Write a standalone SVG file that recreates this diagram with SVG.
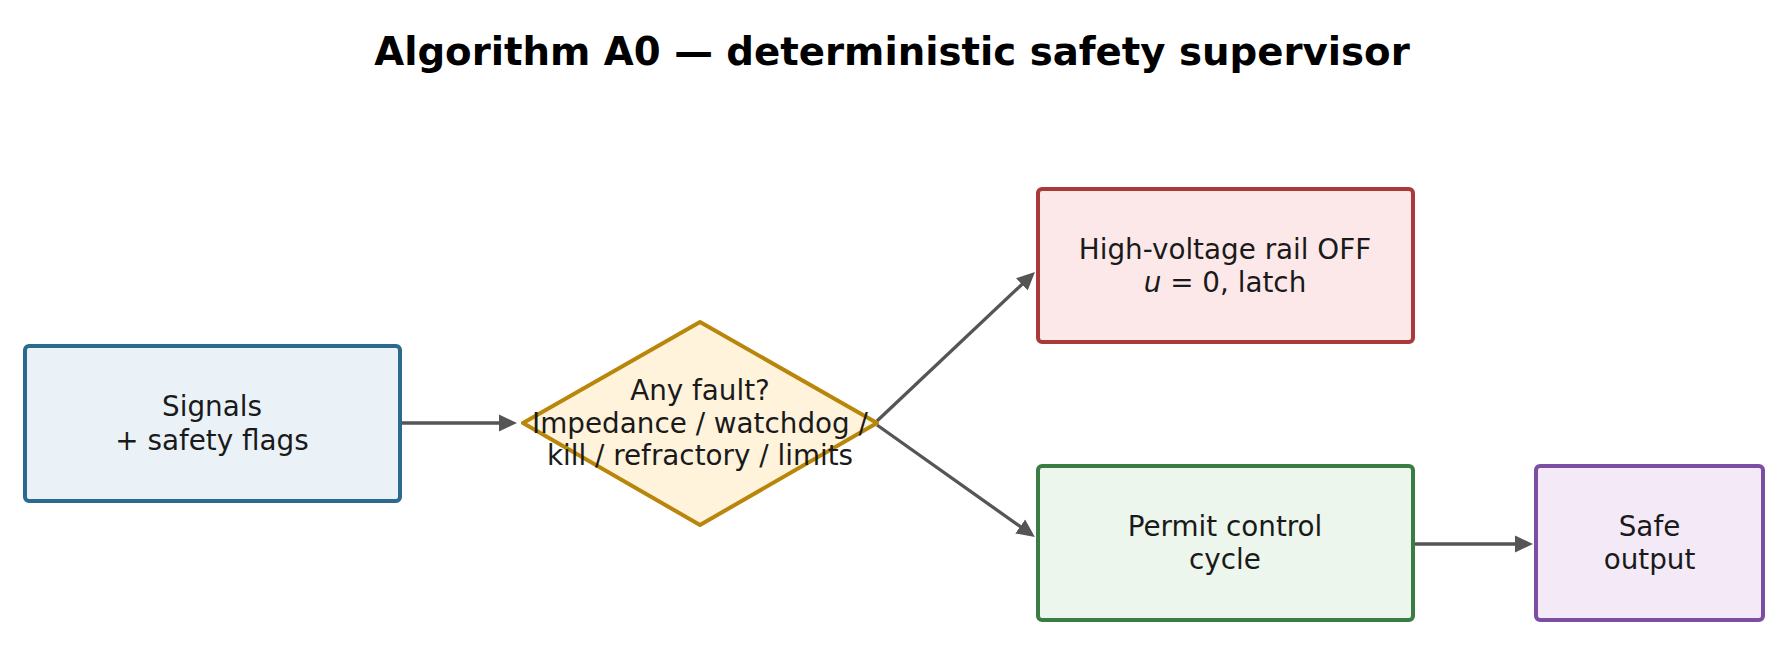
<svg xmlns="http://www.w3.org/2000/svg" width="1784" height="655" viewBox="0 0 1784 655">
<defs>
<style>
text{font-family:"DejaVu Sans","Liberation Sans",sans-serif;fill:#1a1a1a;text-anchor:middle}
.lbl{font-size:27.8px}
.title{font-size:38.7px;font-weight:bold;fill:#000}
.box{stroke-width:4;stroke-linejoin:round}
.conn{stroke:#555;stroke-width:3.3;fill:none;marker-end:url(#ah)}
</style>
<marker id="ah" markerUnits="userSpaceOnUse" viewBox="0 -10 19 20" markerWidth="19" markerHeight="20" refX="12" refY="0" orient="auto">
<path d="M0,-8.5 L18,0 L0,8.5 z" fill="#555"/>
</marker>
</defs>
<rect width="1784" height="655" fill="#fff"/>
<text class="title" x="892" y="65">Algorithm A0 — deterministic safety supervisor</text>
<g id="connectors">
<line class="conn" x1="400" y1="423" x2="511" y2="423"/>
<line class="conn" x1="877" y1="421" x2="1030.6" y2="276.2"/>
<line class="conn" x1="877" y1="425" x2="1030" y2="533.5"/>
<line class="conn" x1="1413" y1="544" x2="1527" y2="544"/>
</g>
<g id="signals">
<rect class="box" x="25" y="346" width="375" height="155" rx="4" fill="#eaf2f8" stroke="#2b6a8c"/>
<text class="lbl" x="212" y="416">Signals</text>
<text class="lbl" x="212" y="450">+ safety flags</text>
</g>
<g id="fault">
<polygon class="box" points="700,322 877,423 700,525 523,423" fill="#fff3dc" stroke="#b8860b"/>
<text class="lbl" x="700" y="400">Any fault?</text>
<text class="lbl" x="700" y="433">Impedance / watchdog /</text>
<text class="lbl" x="700" y="465">kill / refractory / limits</text>
</g>
<g id="rail-off">
<rect class="box" x="1038" y="189" width="375" height="153" rx="4" fill="#fce8e9" stroke="#a93a3a"/>
<text class="lbl" x="1225" y="259">High-voltage rail OFF</text>
<text class="lbl" x="1225" y="292"><tspan font-style="italic">u</tspan> = 0, latch</text>
</g>
<g id="permit">
<rect class="box" x="1038" y="466" width="375" height="154" rx="4" fill="#edf6ec" stroke="#3a7d44"/>
<text class="lbl" x="1225" y="536">Permit control</text>
<text class="lbl" x="1225" y="569">cycle</text>
</g>
<g id="safe-output">
<rect class="box" x="1536" y="466" width="227" height="154" rx="4" fill="#f4eaf7" stroke="#7b4ea3"/>
<text class="lbl" x="1649.5" y="536">Safe</text>
<text class="lbl" x="1649.5" y="569">output</text>
</g>
</svg>
